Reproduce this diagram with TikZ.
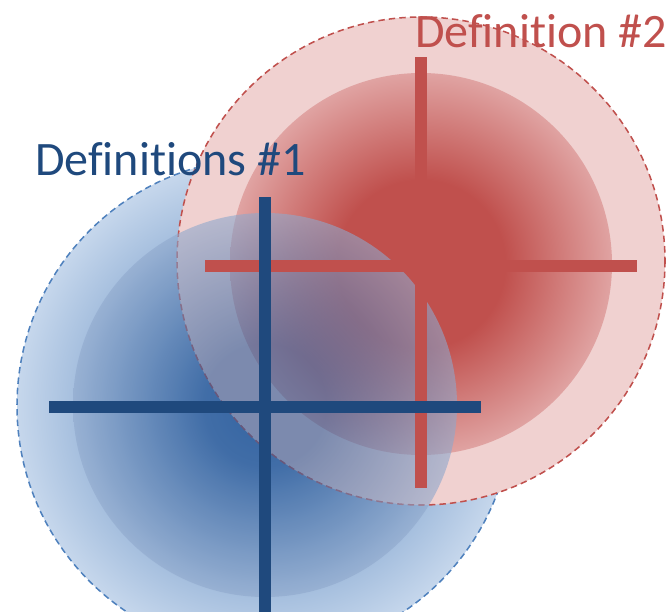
\documentclass[tikz,border=0pt]{standalone}
\usepackage{fontspec}
\setmainfont[Ligatures={NoCommon}]{Carlito}

\definecolor{czerwony}{HTML}{C0504D}
\definecolor{czerwonyBrzeg}{HTML}{E0A3A2}
\definecolor{rozowy}{HTML}{F0D1D0}
\definecolor{granat}{HTML}{1F497D}
\definecolor{niebieski}{HTML}{4F81BD}
\definecolor{niebieskiSrodek}{HTML}{3A6FB0}
\definecolor{niebieskiBrzeg}{HTML}{C6D7EC}
\definecolor{jadroSrodek}{HTML}{2F5C98}
\definecolor{jadroBrzeg}{HTML}{8FA8CC}

\pgfdeclareradialshading{jadroczerwone}{\pgfpointorigin}{%
  color(0bp)=(czerwony); color(11bp)=(czerwony); color(25bp)=(czerwonyBrzeg); color(50bp)=(czerwonyBrzeg)}
\pgfdeclareradialshading{jadroniebieskie}{\pgfpointorigin}{%
  color(0bp)=(jadroSrodek); color(8bp)=(jadroSrodek); color(25bp)=(jadroBrzeg); color(50bp)=(jadroBrzeg)}
\pgfdeclareradialshading{otoczka}{\pgfpointorigin}{%
  color(0bp)=(niebieskiSrodek); color(25bp)=(niebieskiBrzeg); color(50bp)=(niebieskiBrzeg)}

\begin{document}
\begin{tikzpicture}[x=0.03cm,y=-0.03cm,
    krzyz/.style={line width=9.5pt},
    obwod/.style={line width=1.3pt, dash pattern=on 5.5pt off 3.5pt},
    podpis/.style={anchor=base west, inner sep=0, font=\fontsize{41}{49}\selectfont}]
  \useasboundingbox (0,0) rectangle (668,611);
  \clip (0,0) rectangle (668,611);

  % Srodki
  \coordinate (S1) at (265,406);
  \coordinate (S2) at (421,261);

  % Definicja 1 - okrag zewnetrzny
  \shade[shading=otoczka] (S1) circle (248);
  \draw[niebieski, obwod] (S1) circle (248);

  % Definicja 2 - okregi
  \fill[rozowy] (S2) circle (244);
  \draw[czerwony, obwod] (S2) circle (244);
  \shade[shading=jadroczerwone] (421,264) circle (191);

  % Definicja 1 - okrag wewnetrzny
  \shade[shading=jadroniebieskie, opacity=0.6] (265,405) circle (192);

  % Krzyze
  \draw[czerwony, krzyz] (421,57) -- (421,488);
  \draw[czerwony, krzyz] (205,266) -- (637,266);
  \draw[granat, krzyz] (265,197) -- (265,620);
  \draw[granat, krzyz] (49,407) -- (481,407);

  % Podpisy
  \node[podpis, text=granat] (def1) at (35,175) {Definitions \#1};
  \node[podpis, text=czerwony] (def2) at (415,47) {Definition \#2};
\end{tikzpicture}
\end{document}
